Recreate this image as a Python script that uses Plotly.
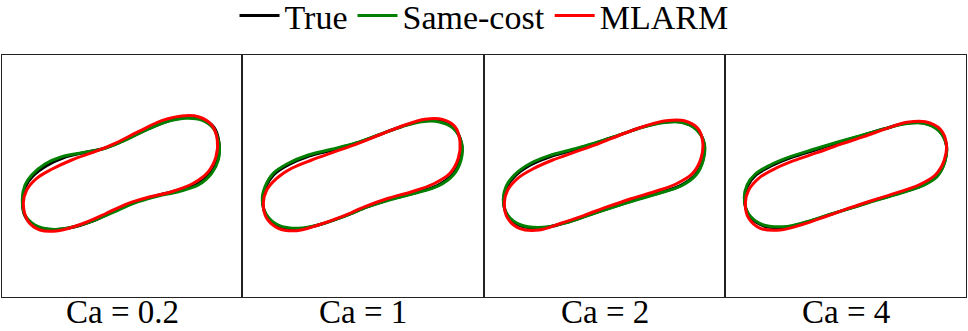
import plotly.graph_objects as go

# panel labels (capillary number)
ca_labels = ["Ca = 0.2", "Ca = 1", "Ca = 2", "Ca = 4"]

# vesicle contours, (x, y) in panel pixels, y pointing down
true_02 = [(20.5, 146), (23.5, 131.5), (31, 121), (45, 110.5), (62, 102.5), (83, 97.5), (103, 93),
           (123, 85), (146, 74), (166, 66), (185, 62.5), (201, 64.5), (212, 72.5), (217, 87.5),
           (216, 104), (209, 117.5), (195.5, 129), (175, 135.5), (155, 140.5), (134.5, 146.5),
           (113.5, 155.5), (90.5, 166), (67, 173), (47.5, 174.5), (32, 170.5), (23, 161)]
same_02 = [(20.3, 145), (23, 130), (29.7, 120), (43, 109), (59.7, 101.7), (79.7, 97.7), (99.7, 94.3),
           (119.7, 86.7), (143, 75.7), (163, 67.3), (183, 63.3), (199.7, 65), (211.3, 73.3), (217, 88.3),
           (216.3, 105), (209.7, 118.3), (196.3, 130), (176.3, 136.7), (156.3, 141), (136.3, 146.7),
           (116.3, 155), (93, 165), (69.7, 172.3), (49.7, 174.3), (33, 170), (23, 160)]
mlarm_02 = [(21.3, 148.3), (24.7, 135), (34.7, 123.3), (49.7, 114.3), (69.7, 105), (93, 96.7), (113, 88.3),
            (136.3, 76.7), (159.7, 65.7), (179.7, 61), (196.3, 61.7), (209.7, 70), (215.3, 85), (214, 101.7),
            (206.3, 116.7), (191.3, 128.3), (169.7, 136.7), (146.3, 142.3), (126.3, 148.3), (103, 159),
            (79.7, 169), (56.3, 175.7), (38, 175), (26.3, 166.7)]

true_1 = [(20.5, 146), (23.5, 132.5), (32, 119.5), (47, 109.5), (67, 101), (90.5, 95), (114, 88.3),
          (137, 79.8), (160.5, 71.2), (180.5, 66), (197, 66), (211.8, 73), (219.5, 88), (218.5, 104.5),
          (210.5, 119.6), (195.3, 130.6), (172.3, 138), (149, 144), (125.8, 151.7), (102.5, 161.2),
          (79, 169.3), (56, 174), (36.3, 170.8), (24.7, 161)]
same_1 = [(20.3, 145), (23, 131.7), (31.3, 118.3), (46.3, 108.3), (66.3, 100), (89.7, 94.3), (113, 88.3),
          (136.3, 80), (159.7, 71.7), (179.7, 66.7), (196.3, 66.7), (211.3, 73.3), (219.7, 88.3), (219, 105),
          (211.3, 120), (196.3, 131), (173, 138.3), (149.7, 144.3), (126.3, 151.7), (103, 161),
          (79.7, 169), (56.3, 173.3), (36.3, 170), (24.7, 160)]
mlarm_1 = [(21.3, 148.3), (24.7, 135), (34.7, 123.3), (49.7, 113.3), (69.7, 105), (93, 96.7), (116.3, 88.3),
           (139.7, 79), (163, 70), (183, 64.3), (199.7, 64.3), (213, 71.7), (218, 86.7), (216.3, 103.3),
           (208, 118.3), (191.3, 129), (169.7, 136.7), (146.3, 143.3), (123, 151.7), (99.7, 161.7),
           (76.3, 170), (54.7, 175.7), (36.3, 173.3), (24.7, 163.3)]

true_2 = [(19.5, 146), (22.5, 132.5), (31, 121), (46, 110.2), (66, 101.8), (89.5, 95), (112.8, 87.8),
          (136, 79.8), (159.5, 71.8), (179.5, 67.3), (197.7, 67), (212.4, 74), (220, 88), (219, 104.6),
          (211.3, 119.7), (196.3, 130.6), (174.6, 138), (151.3, 144.7), (127.9, 152.2), (104.5, 160.1),
          (81, 167.8), (58, 173), (36.7, 170.8), (23.7, 161)]
same_2 = [(19.3, 145), (22, 131.7), (30.3, 120), (45.3, 109), (65.3, 100.7), (88.7, 94.3), (112, 87.7),
          (135.3, 80), (158.7, 72.3), (178.7, 67.7), (197, 67.3), (212, 74.3), (220.3, 88.3), (219.3, 105),
          (212, 120), (197, 131), (175.3, 138.3), (152, 145), (128.7, 152.3), (105.3, 160),
          (82, 167.7), (58.7, 172.3), (37, 170), (23.7, 160)]
mlarm_2 = [(20.3, 148.3), (23.7, 135), (33.7, 123.3), (48.7, 114), (68.7, 105), (92, 96.7), (115.3, 88.3),
           (138.7, 79), (162, 70.7), (182, 65.7), (200.3, 65.7), (213.7, 73.3), (218.7, 86.7), (217, 103.3),
           (208.7, 118.3), (192, 129), (170.3, 136.7), (147, 143.7), (123.7, 151.7), (100.3, 160.3),
           (77, 168.3), (55.3, 175), (35.3, 173.3), (23.7, 163.3)]

true_4 = [(19.5, 144.5), (22.5, 131.2), (31, 120), (46, 111), (66, 102.7), (89.5, 95.2), (112.8, 87.8),
          (136, 80.9), (159.5, 73.8), (179.5, 68.6), (199, 68), (214, 75.5), (221.3, 89.6), (219.8, 106.2),
          (211.6, 121.3), (196.3, 130.8), (174.6, 138.1), (151.3, 144.9), (127.9, 152.4), (104.5, 159.7),
          (81, 167.3), (58, 172.5), (36.7, 170.2), (23.7, 160)]
same_4 = [(19.3, 143.3), (22, 130), (30.3, 119), (45.3, 110), (65.3, 101.7), (88.7, 94.3), (112, 87.3),
          (135.3, 80.7), (158.7, 74), (178.7, 69), (198.7, 68.3), (213.7, 75.7), (221.3, 90), (220, 106.7),
          (212, 121.7), (197, 131), (175.3, 138.3), (152, 145), (128.7, 152.3), (105.3, 159.3),
          (82, 166.7), (58.7, 171.7), (37, 169.3), (23.7, 159)]
mlarm_4 = [(20.3, 148.3), (23.7, 135), (33.7, 123.3), (48.7, 114.3), (68.7, 105.7), (92, 97.7), (115.3, 89.3),
           (138.7, 81.7), (162, 73.3), (182, 67.3), (200.3, 66.7), (215.3, 74.3), (221.3, 88.3), (219.3, 105),
           (210.3, 120), (193.7, 130), (172, 137.7), (148.7, 145), (125.3, 152.7), (102, 161),
           (78.7, 169), (55.3, 175), (35.3, 173.3), (23.7, 163.3)]

panels = [
    (true_02, same_02, mlarm_02),
    (true_1, same_1, mlarm_1),
    (true_2, same_2, mlarm_2),
    (true_4, same_4, mlarm_4),
]
series = [("True", "black"), ("Same-cost", "green"), ("MLARM", "red")]

W, H = 968, 331
FONT = "Liberation Serif"
lefts = [2, 242, 484, 725]
rights = [242, 484, 725, 966]
top_px, bot_px = 55, 297

fig = go.Figure()

for i, curves in enumerate(panels):
    ax = "" if i == 0 else str(i + 1)
    for (name, color), pts in zip(series, curves):
        closed = pts + [pts[0]]
        fig.add_trace(go.Scatter(
            x=[p[0] for p in closed],
            y=[p[1] for p in closed],
            mode="lines",
            line=dict(color=color, width=3, shape="spline", smoothing=1),
            name=name,
            showlegend=(i == 0),
            xaxis="x" + ax, yaxis="y" + ax,
            hoverinfo="skip",
        ))
    ax_style = dict(showgrid=False, zeroline=False, showticklabels=False, ticks="",
                    showline=True, mirror=True, linecolor="#222", linewidth=1, fixedrange=True)
    fig.update_layout({
        "xaxis" + ax: dict(domain=[lefts[i] / W, rights[i] / W], range=[0, rights[i] - lefts[i]],
                           anchor="y" + ax, **ax_style),
        "yaxis" + ax: dict(domain=[1 - bot_px / H, 1 - top_px / H], range=[bot_px - top_px, 0],
                           anchor="x" + ax, **ax_style),
    })
    fig.add_annotation(
        text=ca_labels[i], x=(lefts[i] + rights[i]) / 2 / W, y=0,
        xref="paper", yref="paper", showarrow=False, xanchor="center", yanchor="bottom",
        borderpad=0, font=dict(family=FONT, size=33, color="black"),
    )

fig.update_layout(
    width=W, height=H,
    margin=dict(l=0, r=0, t=0, b=0, autoexpand=False),
    paper_bgcolor="white", plot_bgcolor="white",
    font=dict(family=FONT, color="black"),
    legend=dict(orientation="h", x=0.5, xanchor="center", y=1 - 16 / H, yanchor="middle",
                font=dict(family=FONT, size=34), itemwidth=40, tracegroupgap=0,
                bgcolor="rgba(0,0,0,0)"),
)

# the browser's default body margin would shift the figure by 8px
fig.write_html("out.html", config={"displayModeBar": False},
               post_script="document.body.style.margin='0px';")
